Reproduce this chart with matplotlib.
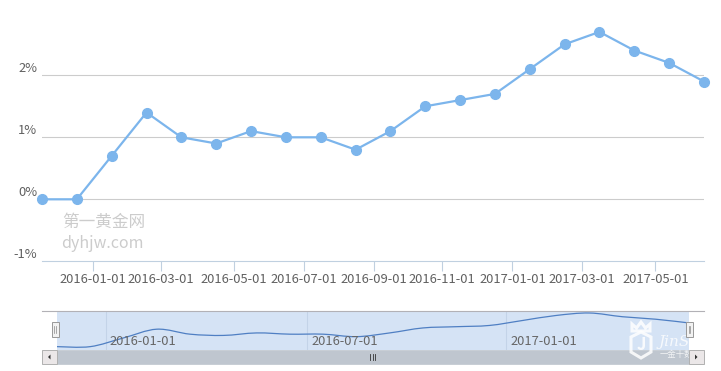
import numpy as np
import pandas as pd
import matplotlib
matplotlib.use('Agg')
import matplotlib.pyplot as plt
from matplotlib.patches import Rectangle, Polygon, PathPatch
from matplotlib.path import Path
import matplotlib.transforms as mtrans

plt.rcParams['font.family'] = ['Noto Sans CJK SC', 'DejaVu Sans']

# data: release dates and CPI yoy (%)
dates = pd.to_datetime(['2015-11-17', '2015-12-15', '2016-01-20', '2016-02-19', '2016-03-16',
                        '2016-04-14', '2016-05-17', '2016-06-16', '2016-07-15', '2016-08-16',
                        '2016-09-16', '2016-10-18', '2016-11-17', '2016-12-15', '2017-01-18',
                        '2017-02-15', '2017-03-15', '2017-04-14', '2017-05-12', '2017-06-14'])
values = [0.0, 0.0, 0.7, 1.4, 1.0, 0.9, 1.1, 1.0, 1.0, 0.8,
          1.1, 1.5, 1.6, 1.7, 2.1, 2.5, 2.7, 2.4, 2.2, 1.9]
tick_dates = pd.to_datetime(['2016-01-01', '2016-03-01', '2016-05-01', '2016-07-01', '2016-09-01',
                             '2016-11-01', '2017-01-01', '2017-03-01', '2017-05-01'])
nav_tick_dates = pd.to_datetime(['2016-01-01', '2016-07-01', '2017-01-01'])
y_ticks = [-1, 0, 1, 2]
y_labels = ['-1%', '0%', '1%', '2%']

W, H = 721, 371
def fx(p): return p / W
def fy(p): return 1 - p / H

# ordinal axis: points equally spaced, dates mapped in between
idx = np.arange(len(dates))
dnum = dates.values.astype('datetime64[D]').astype(float)
def ordinal(ds):
    return np.interp(ds.values.astype('datetime64[D]').astype(float), dnum, idx)

fig = plt.figure(figsize=(W / 100, H / 100), dpi=100)

ax = fig.add_axes([fx(42), fy(261.3), fx(704) - fx(42), fy(13.3) - fy(261.3)])
ax.set_xlim(0, len(dates) - 1)
ax.set_ylim(-1, 3)
for v in [0, 1, 2]:
    ax.axhline(v, color='#cccccc', lw=0.8, zorder=1)
ax.plot(idx, values, color='#7cb5ec', lw=1.6, marker='o', ms=7, clip_on=False, zorder=3)
for s in ['top', 'right', 'left']:
    ax.spines[s].set_visible(False)
ax.spines['bottom'].set_color('#c0d0e0')
ax.spines['bottom'].set_linewidth(0.8)
ax.spines['bottom'].set_zorder(4)
ax.set_xticks(ordinal(tick_dates))
ax.set_xticklabels([d.strftime('%Y-%m-%d') for d in tick_dates])
ax.tick_params(axis='x', length=7.2, width=0.8, color='#c0d0e0', pad=1.5,
               labelsize=9.3, labelcolor='#606060')
ax.set_yticks(y_ticks)
ax.set_yticklabels(y_labels)
ax.tick_params(axis='y', length=0, pad=3.5, labelsize=9.3, labelcolor='#606060')
for lab in ax.get_yticklabels():
    lab.set_va('bottom')

# watermark
fig.text(fx(62), fy(222), '第一黄金网', fontsize=12, color='#cccccc', va='center')
fig.text(fx(61), fy(243), 'dyhjw.com', fontsize=11.5, color='#cccccc', va='center')

# navigator
nav = fig.add_axes([fx(57), fy(350), fx(689) - fx(57), fy(311) - fy(350)])
nav.set_facecolor('#d5e3f5')
nav.set_xlim(0, len(dates) - 1)
nav.set_ylim(-0.27, 2.86)
for s in nav.spines.values():
    s.set_visible(False)
nav.set_xticks([])
nav.set_yticks([])
# smooth line through the points
P = np.column_stack([idx, values])
verts = [tuple(P[0])]
codes = [Path.MOVETO]
for i in range(len(P) - 1):
    p0 = P[max(i - 1, 0)]
    p1 = P[i]
    p2 = P[i + 1]
    p3 = P[min(i + 2, len(P) - 1)]
    c1 = p1 + (p2 - p0) / 6
    c2 = p2 - (p3 - p1) / 6
    verts += [tuple(c1), tuple(c2), tuple(p2)]
    codes += [Path.CURVE4] * 3
nav.add_patch(PathPatch(Path(verts, codes), fill=False, edgecolor='#4f7fc3', lw=0.9, zorder=3))
trans = mtrans.blended_transform_factory(nav.transData, nav.transAxes)
for d, xp in zip(nav_tick_dates, ordinal(nav_tick_dates)):
    nav.axvline(xp, color='#c3d3e8', lw=0.8, zorder=1)
    nav.text(xp + 0.12, 0.22, d.strftime('%Y-%m-%d'), transform=trans, fontsize=9.3,
             color='#666666', va='center', ha='left', zorder=4)

# logo watermark (white, semi-transparent)
logo_kw = dict(facecolor='none', edgecolor='white', lw=2.2, alpha=0.85, zorder=4)
fig.add_artist(Polygon([[fx(631), fy(337)], [fx(641), fy(332)], [fx(651), fy(337)],
                        [fx(651), fy(352)], [fx(641), fy(358)], [fx(631), fy(352)]],
                       closed=True, **logo_kw))
fig.add_artist(Polygon([[fx(632), fy(331)], [fx(632), fy(324)], [fx(636.5), fy(328)],
                        [fx(641), fy(322)], [fx(645.5), fy(328)], [fx(650), fy(324)],
                        [fx(650), fy(331)]], closed=True, **logo_kw))
fig.text(fx(641), fy(345), 'J', fontsize=12, color='white', alpha=0.85,
         fontweight='bold', va='center', ha='center', zorder=4)
fig.text(fx(659), fy(342), 'JinSh', fontsize=11, color='white', alpha=0.8,
         style='italic', family='DejaVu Serif', va='center', zorder=4)
fig.text(fx(660), fy(354), '一金十数据', fontsize=6, color='white', alpha=0.8,
         va='center', zorder=4)

# outline of navigator
fig.add_artist(Rectangle((fx(689), fy(350)), 15 / W, 38 / H, facecolor='white',
                         edgecolor='none', zorder=4.5))
fig.add_artist(plt.Line2D([fx(42), fx(704)], [fy(311), fy(311)], color='#b2b1b6', lw=0.8,
                          zorder=5))

# handles
for hx in [51.5, 686]:
    fig.add_artist(Rectangle((fx(hx), fy(337)), 7 / W, 15 / H, facecolor='#f2f2f2',
                             edgecolor='#999999', lw=0.7, zorder=6))
    for lx in [hx + 2.8, hx + 4.3]:
        fig.add_artist(plt.Line2D([fx(lx), fx(lx)], [fy(333), fy(326)], color='#888888',
                                  lw=0.5, zorder=7))

# scrollbar
fig.add_artist(Rectangle((fx(57), fy(364)), 632 / W, 14 / H, facecolor='#bfc6cf',
                         edgecolor='#bfc6cf', lw=0.5, zorder=2))
for bx in [42, 689]:
    fig.add_artist(Rectangle((fx(bx), fy(364)), 15 / W, 14 / H, facecolor='#ebe7e8',
                             edgecolor='#b0b0b0', lw=0.7, zorder=5))
fig.add_artist(Polygon([[fx(50.5), fy(354.5)], [fx(50.5), fy(359.5)], [fx(48), fy(357)]],
                       closed=True, facecolor='#333333', edgecolor='none', zorder=6))
fig.add_artist(Polygon([[fx(695), fy(354.5)], [fx(695), fy(359.5)], [fx(697.5), fy(357)]],
                       closed=True, facecolor='#333333', edgecolor='none', zorder=6))
for gx in [370, 372.5, 375]:
    fig.add_artist(plt.Line2D([fx(gx), fx(gx)], [fy(354), fy(360)], color='#333333',
                              lw=0.6, zorder=3))

fig.savefig('out.png', dpi=100)
